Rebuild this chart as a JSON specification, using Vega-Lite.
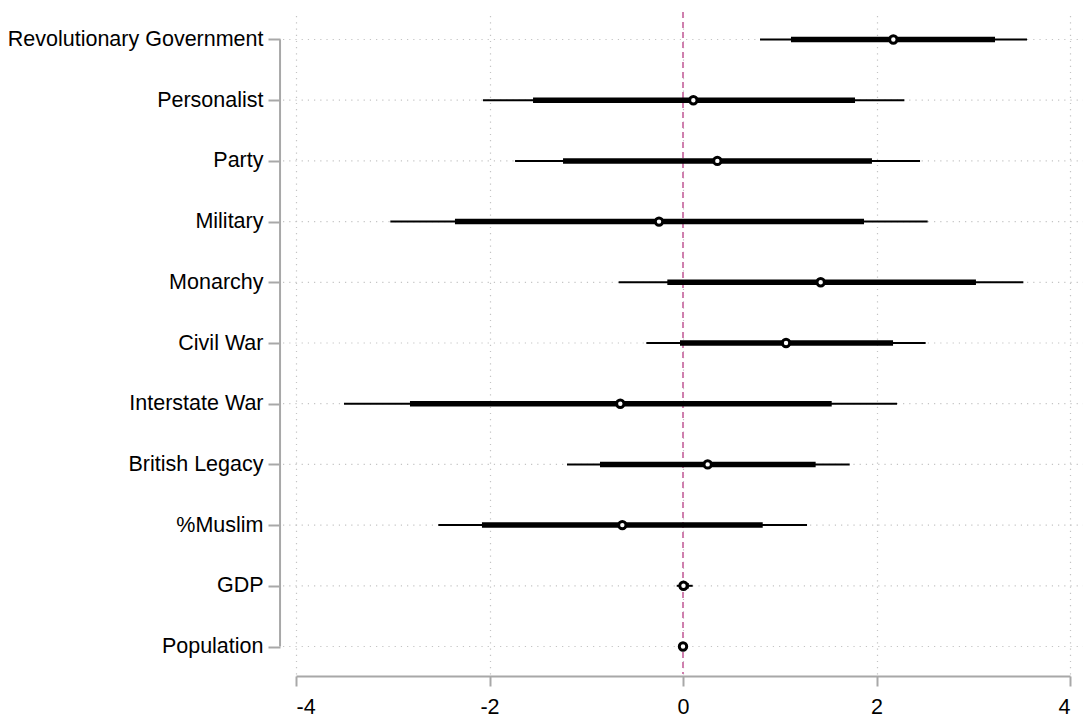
{
  "$schema": "https://vega.github.io/schema/vega-lite/v6.json",
  "autosize": {"type": "none"},
  "padding": {"left": 296, "top": 12, "right": 13, "bottom": 43},
  "width": 774,
  "height": 662,
  "config": {
    "view": {"stroke": null},
    "font": "Liberation Sans",
    "axis": {"labelFont": "Liberation Sans", "labelColor": "#000000"}
  },
  "data": {
    "values": [
      {"term": "Revolutionary Government", "b": 2.174, "lo95": 0.796, "hi95": 3.556, "lo90": 1.116, "hi90": 3.225},
      {"term": "Personalist", "b": 0.107, "lo95": -2.067, "hi95": 2.288, "lo90": -1.55, "hi90": 1.778},
      {"term": "Party", "b": 0.355, "lo95": -1.736, "hi95": 2.45, "lo90": -1.24, "hi90": 1.953},
      {"term": "Military", "b": -0.248, "lo95": -3.025, "hi95": 2.529, "lo90": -2.357, "hi90": 1.871},
      {"term": "Monarchy", "b": 1.423, "lo95": -0.665, "hi95": 3.518, "lo90": -0.162, "hi90": 3.028},
      {"term": "Civil War", "b": 1.065, "lo95": -0.379, "hi95": 2.508, "lo90": -0.031, "hi90": 2.171},
      {"term": "Interstate War", "b": -0.648, "lo95": -3.504, "hi95": 2.212, "lo90": -2.822, "hi90": 1.537},
      {"term": "British Legacy", "b": 0.255, "lo95": -1.199, "hi95": 1.723, "lo90": -0.858, "hi90": 1.371},
      {"term": "%Muslim", "b": -0.627, "lo95": -2.529, "hi95": 1.282, "lo90": -2.078, "hi90": 0.824},
      {"term": "GDP", "b": 0.005, "lo95": -0.065, "hi95": 0.1, "lo90": -0.04, "hi90": 0.06},
      {"term": "Population", "b": 0.0, "lo95": -0.003, "hi95": 0.003, "lo90": -0.002, "hi90": 0.002}
    ]
  },
  "layer": [
    {
      "mark": {"type": "rule", "color": "#c4c4c4", "strokeWidth": 1.2, "strokeDash": [1.2, 5]},
      "encoding": {
        "y": {
          "field": "term",
          "type": "nominal",
          "sort": null,
          "scale": {"type": "point", "padding": 0.453, "domain": ["Revolutionary Government", "Personalist", "Party", "Military", "Monarchy", "Civil War", "Interstate War", "British Legacy", "%Muslim", "GDP", "Population"]},
          "axis": {
            "title": null,
            "orient": "left",
            "offset": 16,
            "domain": false,
            "grid": false,
            "tickSize": 12,
            "tickWidth": 2,
            "tickColor": "#a8a8a8",
            "labelPadding": 5,
            "labelFontSize": 21.5,
            "labelLimit": 0
          }
        },
        "x": {"datum": -4.134, "type": "quantitative"},
        "x2": {"datum": 4.134}
      }
    },
    {
      "data": {"values": [{}]},
      "mark": {"type": "rule", "color": "#a8a8a8", "strokeWidth": 2},
      "encoding": {
        "x": {"datum": -4.165, "type": "quantitative"},
        "y": {"datum": "Revolutionary Government", "type": "nominal"},
        "y2": {"datum": "Population"}
      }
    },
    {
      "data": {"values": [{}]},
      "mark": {"type": "rule", "color": "#cf7fae", "strokeWidth": 2, "strokeDash": [6, 4]},
      "encoding": {
        "x": {"datum": 0, "type": "quantitative"}
      }
    },
    {
      "mark": {"type": "rule", "color": "#000000", "strokeWidth": 2},
      "encoding": {
        "y": {"field": "term", "type": "nominal", "sort": null},
        "x": {
          "field": "lo95",
          "type": "quantitative",
          "scale": {"domain": [-4, 4], "nice": false, "zero": false},
          "axis": {
            "title": null,
            "values": [-4, -2, 0, 2, 4],
            "offset": 2,
            "domainColor": "#a8a8a8",
            "domainWidth": 2,
            "tickColor": "#a8a8a8",
            "tickWidth": 2,
            "tickSize": 10,
            "labelPadding": 10,
            "labelFontSize": 21.5,
            "labelExpr": "datum.value < 0 ? '-' + abs(datum.value) : '' + datum.value",
            "grid": true,
            "gridColor": "#c4c4c4",
            "gridWidth": 1.2,
            "gridDash": [1.2, 5]
          }
        },
        "x2": {"field": "hi95"}
      }
    },
    {
      "mark": {"type": "rule", "color": "#000000", "strokeWidth": 5.5},
      "encoding": {
        "y": {"field": "term", "type": "nominal", "sort": null},
        "x": {"field": "lo90", "type": "quantitative"},
        "x2": {"field": "hi90"}
      }
    },
    {
      "mark": {"type": "point", "shape": "circle", "filled": false, "fill": "#ffffff", "fillOpacity": 1, "stroke": "#000000", "strokeWidth": 3, "size": 55, "opacity": 1},
      "encoding": {
        "y": {"field": "term", "type": "nominal", "sort": null},
        "x": {"field": "b", "type": "quantitative"}
      }
    }
  ]
}
